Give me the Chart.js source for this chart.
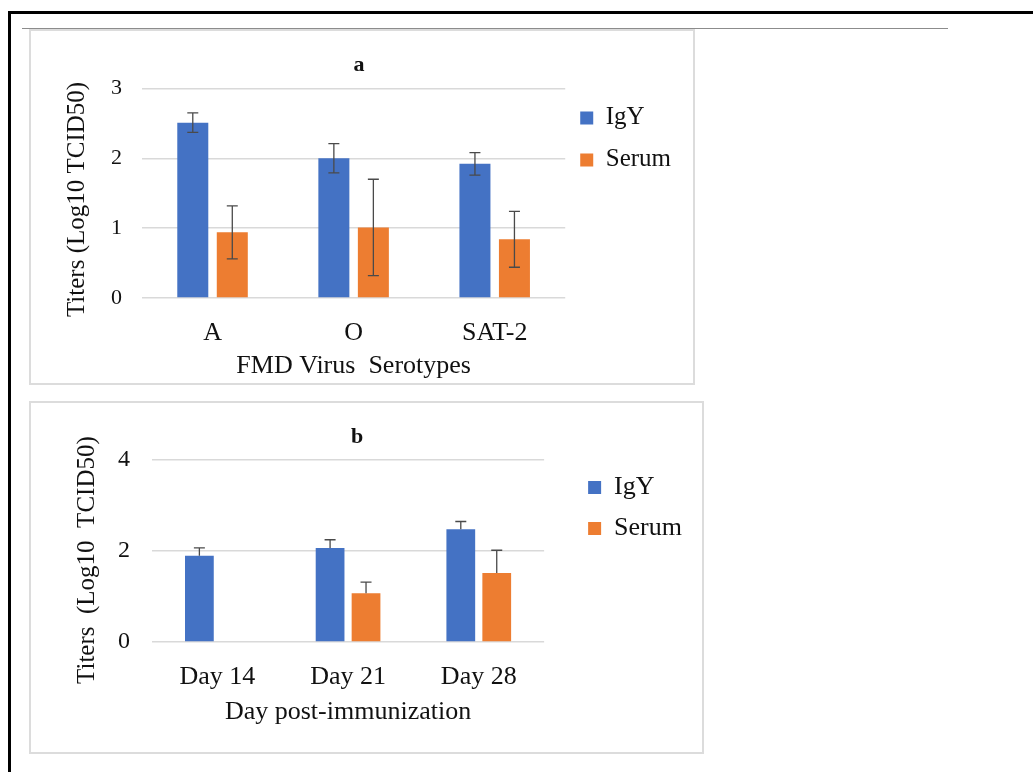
<!DOCTYPE html>
<html>
<head>
<meta charset="utf-8">
<script src="https://cdn.jsdelivr.net/npm/chart.js@4.4.1/dist/chart.umd.min.js"></script>
<style>
  html, body { margin: 0; padding: 0; background: #fff; width: 1033px; height: 772px; overflow: hidden; }
  .frame { position: absolute; left: 8px; top: 11px; width: 1100px; height: 800px; border-top: 3px solid #000; border-left: 3px solid #000; }
  .rule { position: absolute; left: 22px; top: 28px; width: 926px; height: 0; border-top: 1px solid #8c8c8c; }
  .panel { position: absolute; box-sizing: border-box; border: 2px solid #dcdcdc; background: #fff; }
  canvas { position: absolute; }
</style>
</head>
<body>
<div class="frame"></div>
<div class="rule"></div>
<div class="panel" style="left:29px;top:29px;width:666px;height:356px;"></div>
<div class="panel" style="left:29px;top:401px;width:675px;height:353px;"></div>
<canvas id="chartA" width="660" height="355" style="left:29px;top:29px;"></canvas>
<canvas id="chartB" width="656" height="352" style="left:29px;top:401px;"></canvas>
<script>
// ---- Panel a data ----
const serotypes = ['A', 'O', 'SAT-2'];
const igyA = [2.51, 2.00, 1.92];
const igyErrA = [0.14, 0.21, 0.16];
const serumA = [0.94, 1.01, 0.84];
const serumErrA = [0.38, 0.69, 0.40];

// ---- Panel b data ----
const days = ['Day 14', 'Day 21', 'Day 28'];
const igyB = [1.89, 2.06, 2.47];
const igyErrB = [0.17, 0.18, 0.17];
const serumB = [null, 1.07, 1.51];
const serumErrB = [null, 0.24, 0.50];

const seriesNames = ['IgY', 'Serum'];
const BLUE = '#4472C4';
const ORANGE = '#ED7D31';
const FONT = "'Liberation Serif', 'Times New Roman', serif";
const TEXT = '#111';

const errorBarPlugin = {
  id: 'errorBars',
  afterDatasetsDraw(chart, args, opts) {
    const ctx = chart.ctx;
    const yScale = chart.scales.y;
    ctx.save();
    ctx.strokeStyle = '#4a4a4a';
    ctx.lineWidth = 1.3;
    chart.data.datasets.forEach((ds, i) => {
      const meta = chart.getDatasetMeta(i);
      meta.data.forEach((bar, j) => {
        const v = ds.data[j];
        const e = ds.errors[j];
        if (v == null || e == null) return;
        const x = bar.x;
        const yTop = yScale.getPixelForValue(v + e);
        const yBot = opts.plusOnly ? yScale.getPixelForValue(v) : yScale.getPixelForValue(v - e);
        const cap = 5.5;
        ctx.beginPath();
        ctx.moveTo(x, yTop); ctx.lineTo(x, yBot);
        ctx.moveTo(x - cap, yTop); ctx.lineTo(x + cap, yTop);
        if (!opts.plusOnly) { ctx.moveTo(x - cap, yBot); ctx.lineTo(x + cap, yBot); }
        ctx.stroke();
      });
    });
    ctx.restore();
  }
};

const boxShiftPlugin = {
  id: 'boxShift',
  afterLayout(chart, args, opts) {
    const ldx = opts.legendDx || 0;
    const tdx = opts.titleDx || 0;
    if (chart.legend) { chart.legend.left += ldx; chart.legend.right += ldx; }
    if (chart.titleBlock) { chart.titleBlock.left += tdx; chart.titleBlock.right += tdx; }
  }
};

function makeChart(id, cfg) {
  return new Chart(document.getElementById(id), {
    type: 'bar',
    data: {
      labels: cfg.labels,
      datasets: [
        { label: seriesNames[0], data: cfg.igy, errors: cfg.igyErr, backgroundColor: BLUE,
          categoryPercentage: cfg.catPct, barPercentage: cfg.barPct },
        { label: seriesNames[1], data: cfg.serum, errors: cfg.serumErr, backgroundColor: ORANGE,
          categoryPercentage: cfg.catPct, barPercentage: cfg.barPct }
      ]
    },
    options: {
      responsive: false,
      animation: false,
      devicePixelRatio: 1,
      layout: { padding: { left: 0, right: cfg.padRight, top: 0, bottom: 0 } },
      plugins: {
        title: {
          display: true, text: cfg.title, color: TEXT,
          font: { family: FONT, size: 22, weight: 'bold' },
          padding: { top: cfg.titlePadTop, bottom: cfg.titlePadBottom }
        },
        legend: {
          display: true, position: 'right', align: 'start', fullSize: false,
          labels: {
            color: TEXT, boxWidth: 13, boxHeight: 13, padding: cfg.legendPad,
            font: { family: FONT, size: cfg.legendFont }
          }
        },
        tooltip: { enabled: false },
        errorBars: { plusOnly: cfg.plusOnly },
        boxShift: { legendDx: cfg.legendDx, titleDx: cfg.titleDx }
      },
      scales: {
        x: {
          grid: { display: false, drawTicks: false },
          border: { display: false },
          ticks: { color: TEXT, padding: cfg.xTickPad, font: { family: FONT, size: cfg.xTickFont } },
          title: { display: true, text: cfg.xTitle, color: TEXT,
                   font: { family: FONT, size: cfg.xTitleFont }, padding: { top: 0, bottom: cfg.xTitlePadBottom } },
          afterFit: (s) => { s.height = cfg.xAxisHeight; }
        },
        y: {
          min: 0, max: cfg.yMax,
          grid: { color: '#d9d9d9', lineWidth: 1.5, drawTicks: false },
          border: { display: false },
          ticks: { stepSize: cfg.yStep, color: TEXT, padding: cfg.yTickPad, font: { family: FONT, size: cfg.yTickFont } },
          title: { display: true, text: cfg.yTitle, color: TEXT,
                   font: { family: FONT, size: 25 }, padding: { top: cfg.yTitlePadTop, bottom: 0 } },
          afterFit: (s) => { s.width = cfg.yAxisWidth; }
        }
      }
    },
    plugins: [errorBarPlugin, boxShiftPlugin]
  });
}

makeChart('chartA', {
  labels: serotypes, igy: igyA, igyErr: igyErrA, serum: serumA, serumErr: serumErrA,
  title: 'a', titlePadTop: 23, titlePadBottom: 10, titleDx: 3,
  catPct: 0.56, barPct: 0.785, padRight: 6,
  legendPad: 17, legendFont: 25, legendDx: -2,
  xTitle: 'FMD Virus  Serotypes', xTitleFont: 26, xTitlePadBottom: 2, xTickFont: 26, xTickPad: 20, xAxisHeight: 86,
  yTitle: 'Titers (Log10 TCID50)  ', yTitlePadTop: 33, yTickFont: 22, yTickPad: 20, yAxisWidth: 113,
  yMax: 3, yStep: 1, plusOnly: false
});

makeChart('chartB', {
  labels: days, igy: igyB, igyErr: igyErrB, serum: serumB, serumErr: serumErrB,
  title: 'b', titlePadTop: 23, titlePadBottom: 9, titleDx: 11,
  catPct: 0.55, barPct: 0.8, padRight: 22,
  legendPad: 15, legendFont: 26, legendDx: 29,
  xTitle: 'Day post-immunization', xTitleFont: 26, xTitlePadBottom: 25, xTickFont: 26, xTickPad: 20, xAxisHeight: 111,
  yTitle: 'Titers  (Log10  TCID50)   ', yTitlePadTop: 43, yTickFont: 24, yTickPad: 22, yAxisWidth: 123,
  yMax: 4, yStep: 2, plusOnly: true
});
</script>
</body>
</html>
